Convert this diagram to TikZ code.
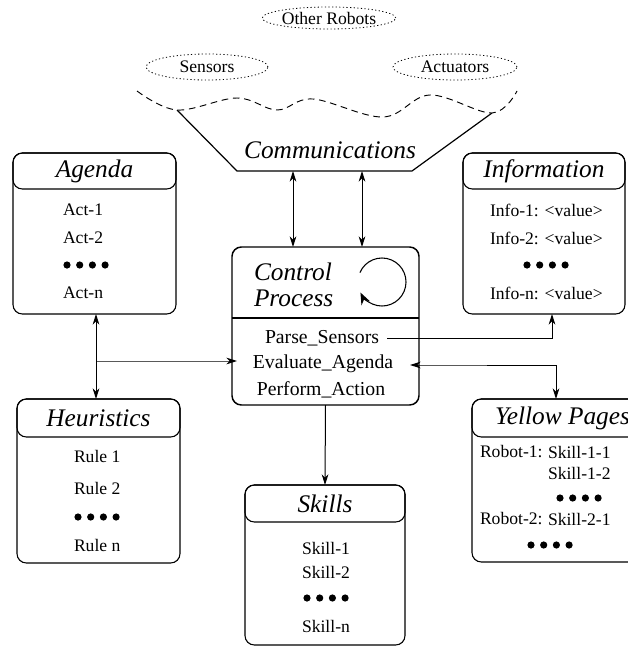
\documentclass[tikz,border=0pt]{standalone}
\usepackage{fontspec}
\setmainfont{Liberation Serif}
\usetikzlibrary{shapes.geometric,arrows.meta}
\begin{document}
\begin{tikzpicture}[x=0.75pt,y=-0.75pt,
  every node/.style={inner sep=0pt, outer sep=0pt},
  body/.style={draw, rounded corners=7pt, line width=0.8pt},
  head/.style={draw, rounded corners=7pt, line width=0.8pt, font=\fontsize{19}{22}\selectfont\itshape},
  ttl/.style={font=\fontsize{19}{19.5}\selectfont\itshape},
  item/.style={anchor=west, font=\fontsize{13.2}{15}\selectfont},
  citem/.style={font=\fontsize{14.8}{17}\selectfont},
  cloud/.style={draw, ellipse, dash pattern=on 0.9pt off 1.8pt, line width=0.6pt, font=\fontsize{13.2}{15}\selectfont},
  conn/.style={line width=0.75pt},
  tip/.style={-{Stealth[length=8pt,width=5pt,inset=2.5pt]}},
  both/.style={{Stealth[length=8pt,width=5pt,inset=2.5pt]}-{Stealth[length=8pt,width=5pt,inset=2.5pt]}},
  dots/.pic={\foreach \i in {0,1,2,3} \fill (\i*12.7,0) circle[radius=3.6];}
]
\useasboundingbox (0,0) rectangle (628,650);
\begin{scope}
\clip (0,0) rectangle (628,650);

% clouds
\node[cloud, minimum width=122*0.75pt, minimum height=22*0.75pt] (other) at (329,18) {Other Robots};
\node[cloud, minimum width=122*0.75pt, minimum height=26*0.75pt] (sensors) at (207,67) {Sensors};
\node[cloud, minimum width=124*0.75pt, minimum height=26*0.75pt] (actuators) at (455,67) {Actuators};

% communications
\coordinate (tl) at (177,110);
\coordinate (bl) at (237,171);
\coordinate (br) at (412,171);
\coordinate (tr) at (492,113);
\draw[line width=0.9pt] (tl) -- (bl) -- (br) -- (tr);
\draw[line width=0.7pt, dash pattern=on 5pt off 3.5pt] plot[smooth, tension=0.6] coordinates
  {(137,91) (177,110) (237,98) (277,110) (313,99) (383,117) (430,95) (492,113) (517,91)};
\node[ttl] (comm) at (330,150) {Communications};

% control process
\node[body, line width=1.1pt, minimum width=187*0.75pt, minimum height=158*0.75pt] (ctrl) at (325.5,326) {};
\coordinate (divy) at (0,318);
\draw[line width=0.9pt] (ctrl.west |- divy) -- (ctrl.east |- divy);
\node[ttl, align=left, anchor=west] (ctitle) at (254,285) {Control\\Process};
\coordinate (loopc) at (382,282);
\draw[line width=0.8pt, -{Stealth[length=9pt,width=7pt,inset=3pt]}] (loopc) ++(-157:24) arc[start angle=-157, end angle=154, radius=24];
\node[citem] (parse) at (322,338) {Parse\_Sensors};
\node[citem] (eval) at (323,364) {Evaluate\_Agenda};
\node[citem] (perform) at (321,390) {Perform\_Action};

% agenda
\node[body, minimum width=163*0.75pt, minimum height=161*0.75pt] (agenda) at (94.5,233.5) {};
\node[head, minimum width=163*0.75pt, minimum height=36*0.75pt, anchor=north] (agendaT) at (agenda.north) {Agenda};
\node[item] (a1) at (63,210) {Act-1};
\node[item] (a2) at (63,238) {Act-2};
\pic at (67,265) {dots};
\node[item] (an) at (63,293) {Act-n};

% information
\node[body, minimum width=162*0.75pt, minimum height=161*0.75pt] (info) at (544,233.5) {};
\node[head, minimum width=162*0.75pt, minimum height=36*0.75pt, anchor=north] (infoT) at (info.north) {Information};
\node[item] (i1) at (490,210) {Info-1: <value>};
\node[item] (i2) at (490,238) {Info-2: <value>};
\pic at (527,265) {dots};
\node[item] (in) at (490,293) {Info-n: <value>};

% heuristics
\node[body, minimum width=163*0.75pt, minimum height=164*0.75pt] (heur) at (98.5,481) {};
\node[head, minimum width=163*0.75pt, minimum height=38*0.75pt, anchor=north] (heurT) at (heur.north) {Heuristics};
\node[item] (r1) at (74,456) {Rule 1};
\node[item] (r2) at (74,488) {Rule 2};
\pic at (78,517) {dots};
\node[item] (rn) at (74,545) {Rule n};

% skills
\node[body, minimum width=160*0.75pt, minimum height=160*0.75pt] (skills) at (325,565) {};
\node[head, minimum width=160*0.75pt, minimum height=37*0.75pt, anchor=north] (skillsT) at (skills.north) {Skills};
\node[item] (s1) at (302,548) {Skill-1};
\node[item] (s2) at (302,572) {Skill-2};
\pic at (307,598) {dots};
\node[item] (sn) at (302,626) {Skill-n};

% yellow pages
\node[body, minimum width=181*0.75pt, minimum height=163*0.75pt] (yp) at (562.5,480.5) {};
\node[head, minimum width=181*0.75pt, minimum height=38*0.75pt, anchor=north] (ypT) at (yp.north) {Yellow Pages};
\node[item] (y1) at (480,452) {Robot-1:};
\node[item] (y11) at (548,452) {Skill-1-1};
\node[item] (y12) at (548,473) {Skill-1-2};
\pic at (560,498) {dots};
\node[item] (y2) at (480,519) {Robot-2:};
\node[item] (y21) at (548,519) {Skill-2-1};
\pic at (531,545) {dots};

% connectors
\coordinate (c1) at (293,171);
\coordinate (c2) at (362,171);
\draw[conn,both] (c1) -- (c1 |- ctrl.north);
\draw[conn,both] (c2) -- (c2 |- ctrl.north);

\coordinate (ah) at (96,361);
\draw[conn,both] (ah |- agenda.south) -- (ah |- heur.north);
\draw[conn,tip] (ah) -- (ctrl.west |- ah) -- ++(5,0);

\coordinate (py) at (552,338);
\draw[conn,tip] ([xshift=6pt]parse.east) -- (py) -- (info.south -| py);

\coordinate (ey) at (556,365);
\draw[conn,both] (yp.north -| ey) -- (ey) -- (ctrl.east |- ey) -- ++(-9,0);

\draw[conn,tip] (ctrl.south) -- (skills.north);
\end{scope}
\end{tikzpicture}
\end{document}
